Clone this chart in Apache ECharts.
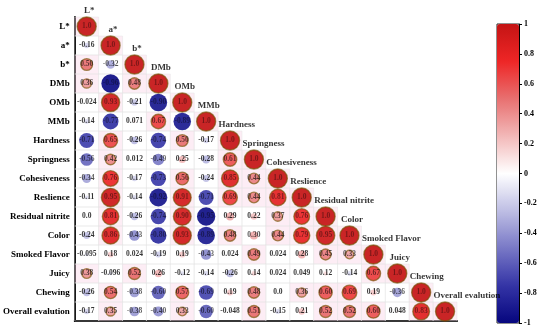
<!DOCTYPE html>
<html><head><meta charset="utf-8">
<script src="https://cdn.jsdelivr.net/npm/echarts@6/dist/echarts.min.js"></script>
<style>html,body{margin:0;padding:0;background:#fff}#c{width:550px;height:333px}</style>
</head><body><div id="c"></div>
<script>
const variables = ['L*','a*','b*','DMb','OMb','MMb','Hardness','Springness','Cohesiveness','Reslience','Residual nitrite','Color','Smoked Flavor','Juicy','Chewing','Overall evalution'];
const rowL = [1.0];
const rowA = [-0.16, 1.0];
const rowB = [0.50, -0.32, 1.0];
const rowDMb = [0.36, -0.96, 0.48, 1.0];
const rowOMb = [-0.024, 0.93, -0.21, -0.90, 1.0];
const rowMMb = [-0.14, -0.77, 0.071, 0.67, -0.89, 1.0];
const rowHardness = [-0.71, 0.65, -0.26, -0.74, 0.50, -0.17, 1.0];
const rowSpringness = [-0.56, 0.42, 0.012, -0.49, 0.25, -0.28, 0.61, 1.0];
const rowCohesiveness = [-0.34, 0.76, -0.17, -0.73, 0.56, -0.24, 0.85, 0.44, 1.0];
const rowReslience = [-0.11, 0.95, -0.14, -0.92, 0.91, -0.71, 0.69, 0.44, 0.81, 1.0];
const rowNitrite = [0.0, 0.81, -0.26, -0.74, 0.90, -0.95, 0.29, 0.22, 0.37, 0.76, 1.0];
const rowColor = [-0.24, 0.86, -0.43, -0.80, 0.93, -0.89, 0.48, 0.30, 0.44, 0.79, 0.95, 1.0];
const rowSmoked = [-0.095, 0.18, 0.024, -0.19, 0.19, -0.43, 0.024, 0.49, 0.024, 0.28, 0.45, 0.33, 1.0];
const rowJuicy = [0.38, -0.096, 0.52, 0.26, -0.12, -0.14, -0.26, 0.14, 0.024, 0.049, 0.12, -0.14, 0.67, 1.0];
const rowChewing = [-0.26, 0.54, -0.38, -0.60, 0.57, -0.69, 0.19, 0.48, 0.0, 0.36, 0.60, 0.69, 0.19, -0.36, 1.0];
const rowOverall = [-0.17, 0.35, -0.38, -0.40, 0.33, -0.60, -0.048, 0.51, -0.15, 0.21, 0.52, 0.52, 0.60, 0.048, 0.83, 1.0];
const corrRows = [rowL,rowA,rowB,rowDMb,rowOMb,rowMMb,rowHardness,rowSpringness,rowCohesiveness,rowReslience,rowNitrite,rowColor,rowSmoked,rowJuicy,rowChewing,rowOverall];
const colorStops = ['#06067E','#3434A6','#7878C6','#BEBEE4','#FFFFFF','#F2B8B8','#E87070','#EE2626','#C41414'];

const n = variables.length;
const GL = 74, GT = 17, GW = 383, GH = 304;
const cw = GW / n, ch = GH / n;
const FONT = '"Liberation Serif","Times New Roman",serif';

const measure = document.createElement('canvas').getContext('2d');
measure.font = 'bold 9px "Liberation Serif"';

const cells = [], texts = [], circles = [], diag = [];
corrRows.forEach((row, i) => {
  row.forEach((v, j) => {
    const a = Math.abs(v);
    cells.push({value: [j, i], itemStyle: {color: v > 0.3 ? 'rgba(250,205,228,0.45)' : 'rgba(255,255,255,0)'}});
    texts.push({value: [j, i, v], label: {color: 'rgba(0,0,0,' + (a >= 0.3 ? (1 - 0.5 * a).toFixed(2) : '1') + ')'}});
    circles.push({
      value: [j, i, v],
      itemStyle: v > 0.3 ? {borderColor: 'rgba(115,80,0,0.7)', borderWidth: 1.4} : {}
    });
  });
});
variables.forEach((name, i) => {
  const w = measure.measureText(name).width;
  const shiftPx = Math.max(0, cw / 2 + 2 - w / 2);
  diag.push({name: name, value: [i + shiftPx / cw, i - 1 + 0.5 + 0.16]});
});

const chart = echarts.init(document.getElementById('c'), null, {renderer: 'canvas'});
chart.setOption({
  animation: false,
  backgroundColor: '#fff',
  grid: [
    {left: GL, top: GT, width: GW, height: GH},
    {left: 497, top: 24, width: 22, height: 299, show: true, borderColor: '#222', borderWidth: 1, backgroundColor: 'transparent'}
  ],
  xAxis: [
    {type: 'category', gridIndex: 0, data: variables, boundaryGap: true, position: 'bottom',
     axisLine: {onZero: false, lineStyle: {color: '#000', width: 2}}, axisTick: {show: false}, axisLabel: {show: false}, splitLine: {show: false}},
    {type: 'value', gridIndex: 0, min: 0, max: n, show: false, axisLine: {onZero: false}},
    {type: 'value', gridIndex: 1, min: 0, max: 1, show: false, axisLine: {onZero: false}}
  ],
  yAxis: [
    {type: 'category', gridIndex: 0, data: variables, inverse: true, boundaryGap: true, position: 'left',
     axisLine: {onZero: false, lineStyle: {color: '#000', width: 2}}, axisTick: {show: false},
     axisLabel: {color: '#000', fontFamily: FONT, fontWeight: 'bold', fontSize: 9, margin: 5}, splitLine: {show: false}},
    {type: 'value', gridIndex: 0, min: 0, max: n, inverse: true, show: false, axisLine: {onZero: false}},
    {type: 'value', gridIndex: 1, min: -1, max: 1, interval: 0.2, position: 'right',
     axisLine: {show: true, onZero: false, lineStyle: {color: '#000', width: 1}},
     axisTick: {show: true, length: 3, lineStyle: {color: '#000'}},
     axisLabel: {color: '#000', fontFamily: FONT, fontWeight: 'bold', fontSize: 8, margin: 5},
     splitLine: {show: false}}
  ],
  visualMap: {
    type: 'continuous', min: -1, max: 1, seriesIndex: 2, dimension: 2,
    inRange: {color: colorStops},
    left: 497, top: 24, itemWidth: 22, itemHeight: 299, padding: 0,
    calculable: false, orient: 'vertical', showLabel: false, text: null
  },
  series: [
    {type: 'scatter', xAxisIndex: 0, yAxisIndex: 0, data: cells, symbol: 'rect', symbolSize: [cw, ch], silent: true, z: 1,
     itemStyle: {borderColor: '#e6e6e6', borderWidth: 0.6}},
    {type: 'scatter', xAxisIndex: 0, yAxisIndex: 0, data: texts, symbolSize: 0, silent: true, z: 4,
     label: {show: true, position: 'inside', fontFamily: FONT, fontWeight: 'bold', fontSize: 7.5,
       formatter: p => Number(p.value[2]).toPrecision(2)}},
    {type: 'scatter', xAxisIndex: 0, yAxisIndex: 0, data: circles, z: 3,
     symbol: 'circle', symbolSize: val => 19 * Math.pow(Math.abs(val[2]), 0.7),
     itemStyle: {opacity: 0.92}},
    {type: 'scatter', xAxisIndex: 1, yAxisIndex: 1, data: diag, symbolSize: 1, clip: false, silent: true, z: 5,
     itemStyle: {color: 'rgba(0,0,0,0)'},
     label: {show: true, position: 'right', distance: 0, color: '#000', fontFamily: FONT, fontWeight: 'bold', fontSize: 9,
       formatter: p => p.name}}
  ]
});
</script></body></html>
